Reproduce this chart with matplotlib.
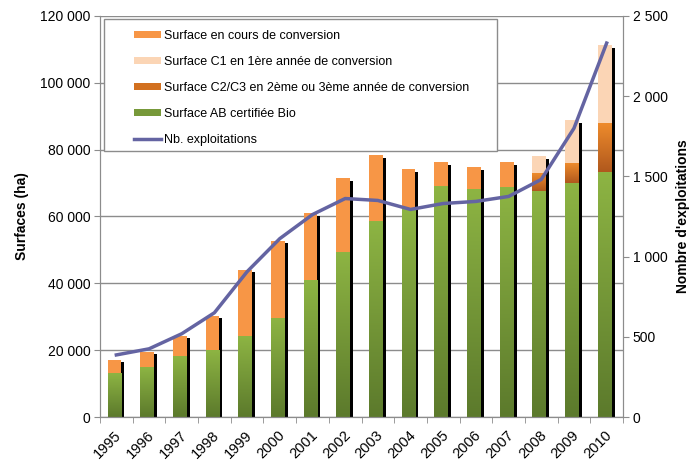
import numpy as np
import matplotlib
matplotlib.use("Agg")
import matplotlib.pyplot as plt
import matplotlib.transforms as mtransforms
from matplotlib.patches import Rectangle, Patch
from matplotlib.lines import Line2D
from matplotlib.colors import LinearSegmentedColormap
from matplotlib.ticker import FuncFormatter, FixedLocator

plt.rcParams['font.family'] = ['Liberation Sans', 'DejaVu Sans']

# data
years = list(range(1995, 2011))
surf_ab = [12900, 14900, 18000, 19800, 24000, 29400, 40800, 49200,
           58500, 62100, 69000, 68100, 68700, 67500, 69900, 73200]
surf_conv = [4200, 4600, 6300, 10500, 20100, 23400, 20100, 22200,
             19800, 12000, 7200, 6600, 7500, 0, 0, 0]
surf_c23 = [0, 0, 0, 0, 0, 0, 0, 0, 0, 0, 0, 0, 0, 5100, 5700, 14400]
surf_c1 = [0, 0, 0, 0, 0, 0, 0, 0, 0, 0, 0, 0, 0, 5400, 13200, 23700]
nb_exploit = [387, 425, 519, 650, 906, 1112, 1262, 1362,
              1350, 1294, 1331, 1344, 1375, 1481, 1800, 2331]

label_conv = "Surface en cours de conversion"
label_c1 = "Surface C1 en 1ère année de conversion"
label_c23 = "Surface C2/C3 en 2ème ou 3ème année de conversion"
label_ab = "Surface AB certifiée Bio"
label_nb = "Nb. exploitations"

# colours
c_conv = "#F79646"
c_c1 = "#FBD5B5"
green_cmap = LinearSegmentedColormap.from_list("g", ["#5C7A2C", "#8DB443"])
c23_cmap = LinearSegmentedColormap.from_list("o", ["#B0581D", "#EE8B2C"])
line_col = "#6464A2"
grid_col = "#8C8C8C"

fig = plt.figure(figsize=(6.94, 4.62), dpi=100)
ax = fig.add_axes([0.1441, 0.0974, 0.7536, 0.868])
ax2 = ax.twinx()

x = np.arange(len(years))
bw = 0.42
bx = x - 0.06

ab = np.array(surf_ab)
conv = np.array(surf_conv)
c23 = np.array(surf_c23)
c1 = np.array(surf_c1)
total = ab + conv + c23 + c1

# shadow
shadow_tr = mtransforms.offset_copy(ax.transData, fig=fig, x=3, y=-2.5, units='dots')
ax.bar(bx, total, width=bw, color='black', transform=shadow_tr, zorder=1)

bars_ab = ax.bar(bx, ab, width=bw, color="#77993A", zorder=2)
ax.bar(bx, conv, width=bw, bottom=ab, color=c_conv, zorder=2)
bars_c23 = ax.bar(bx, c23, width=bw, bottom=ab + conv, color="#D2701F", zorder=2)
ax.bar(bx, c1, width=bw, bottom=ab + conv + c23, color=c_c1, zorder=2)

# vertical gradients on the green and C2/C3 segments
grad = np.linspace(0, 1, 100).reshape(-1, 1)
for bars, cmap in [(bars_ab, green_cmap), (bars_c23, c23_cmap)]:
    for p in bars:
        if p.get_height() <= 0:
            continue
        x0, y0 = p.get_x(), p.get_y()
        ax.imshow(grad, cmap=cmap, origin='lower', aspect='auto', interpolation='bilinear',
                  extent=(x0, x0 + p.get_width(), y0, y0 + p.get_height()), zorder=2.5)

ax.set_xlim(-0.5, len(years) - 0.5)
ax.set_ylim(0, 120000)
ax2.set_ylim(0, 2500)

ax.yaxis.set_major_locator(FixedLocator(np.arange(0, 120001, 20000)))
ax2.yaxis.set_major_locator(FixedLocator(np.arange(0, 2501, 500)))
fmt = FuncFormatter(lambda v, p: f"{int(v):,}".replace(",", " "))
ax.yaxis.set_major_formatter(fmt)
ax2.yaxis.set_major_formatter(fmt)

ax.set_axisbelow(True)
ax.grid(axis='y', color=grid_col, linewidth=1)

ax.set_xticks(x)
ax.set_xticklabels([str(y) for y in years], rotation=45, ha='right', rotation_mode='anchor')
ax.set_xticks(np.arange(-0.5, len(years)), minor=True)
ax.tick_params(axis='x', which='major', length=0, pad=8, labelsize=10.5)
ax.tick_params(axis='x', which='minor', length=4, color=grid_col)
ax.tick_params(axis='y', length=4, color=grid_col, labelsize=10, pad=3)
ax2.tick_params(axis='y', length=4, color=grid_col, labelsize=10, pad=3)
shift = mtransforms.ScaledTranslation(-2 / 100, 0, fig.dpi_scale_trans)
for lbl in ax.get_xticklabels():
    lbl.set_transform(lbl.get_transform() + shift)

for a in (ax, ax2):
    for s in a.spines.values():
        s.set_color(grid_col)
    a.spines['top'].set_visible(False)

ax.set_ylabel("Surfaces (ha)", fontweight='bold', fontsize=10, labelpad=8)
ax2.set_ylabel("Nombre d'exploitations", fontweight='bold', fontsize=10, labelpad=6)

ax2.plot(x, nb_exploit, color=line_col, linewidth=2.5, zorder=3)

# legend
ax2.add_patch(Rectangle((0.0076, 0.6633), 0.7514, 0.3292, transform=ax2.transAxes,
                        facecolor='white', edgecolor=grid_col, linewidth=1, zorder=8))
handles = [Patch(facecolor=c_conv), Patch(facecolor=c_c1), Patch(facecolor="#D2701F"),
           Patch(facecolor="#77993A"), Line2D([], [], color=line_col, linewidth=2.5)]
labels = [label_conv, label_c1, label_c23, label_ab, label_nb]
leg = ax2.legend(handles, labels, loc='upper left', bbox_to_anchor=(0.054, 0.981),
                 frameon=False, fontsize=9, borderpad=0, labelspacing=1.12,
                 handlelength=2.1, handleheight=0.55, handletextpad=0.3)
leg.set_zorder(9)

fig.savefig("out.png", dpi=100)
